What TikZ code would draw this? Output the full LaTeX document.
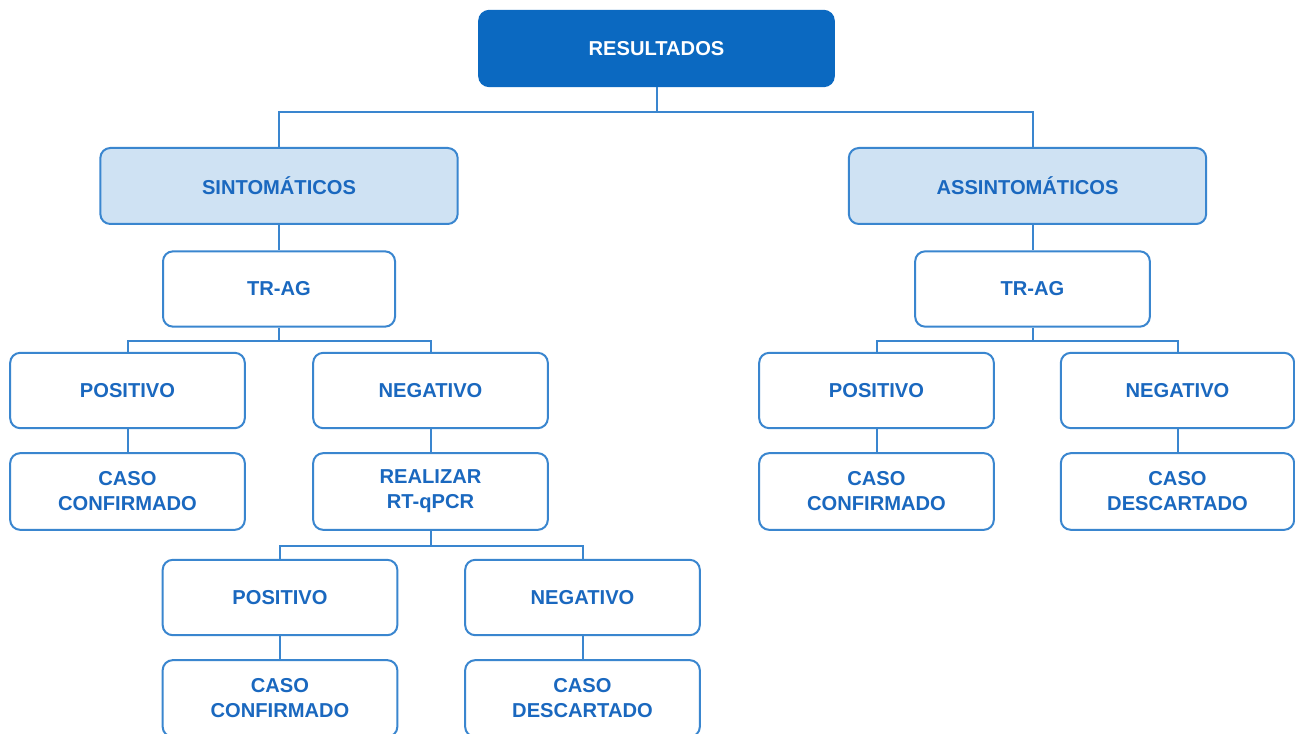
\documentclass[tikz,border=0pt]{standalone}
\usepackage{fontspec}
\setmainfont{Liberation Sans}
\definecolor{darkfill}{HTML}{0B69C1}
\definecolor{lightfill}{HTML}{CFE2F3}
\definecolor{edgeblue}{HTML}{3A86CF}
\definecolor{textblue}{HTML}{1A68BF}
\begin{document}
\begin{tikzpicture}[x=0.75pt,y=-0.75pt,
  base/.style={rounded corners=7.5pt, line width=1.5pt, draw=edgeblue, align=center,
    font=\fontsize{15.1}{18.8}\selectfont\bfseries, text=textblue, inner sep=0pt},
  boxw/.style={base, fill=white, minimum width=176pt, minimum height=56.5pt},
  boxl/.style={base, fill=lightfill, minimum width=268pt, minimum height=57pt},
  boxd/.style={base, fill=darkfill, draw=darkfill, text=white, minimum width=266pt, minimum height=56.5pt},
  conn/.style={draw=edgeblue, line width=1.5pt}
]
\useasboundingbox (0,0) rectangle (1295,734);
% nodes
\node[boxd] (res) at (656.5,48.5) {RESULTADOS};
\node[boxl] (sint) at (279,186) {SINTOMÁTICOS};
\node[boxl] (assint) at (1027.5,186) {ASSINTOMÁTICOS};
\node[boxw, minimum width=174pt] (trag1) at (279,289) {TR-AG};
\node[boxw] (trag2) at (1032.5,289) {TR-AG};
\node[boxw] (pos1) at (127.5,390.5) {POSITIVO};
\node[boxw] (neg1) at (430.5,390.5) {NEGATIVO};
\node[boxw, minimum height=57.5pt] (cc1) at (127.5,491.5) {CASO\\CONFIRMADO};
\node[boxw, minimum height=57.5pt] (rt) at (430.5,491.5) {REALIZAR\\RT-qPCR};
\node[boxw] (pos2) at (280,597.5) {POSITIVO};
\node[boxw] (neg2) at (582.5,597.5) {NEGATIVO};
\node[boxw, minimum height=57.5pt] (cc2) at (280,698.5) {CASO\\CONFIRMADO};
\node[boxw, minimum height=57.5pt] (cd2) at (582.5,698.5) {CASO\\DESCARTADO};
\node[boxw] (pos3) at (876.5,390.5) {POSITIVO};
\node[boxw, minimum width=175pt] (neg3) at (1177.5,390.5) {NEGATIVO};
\node[boxw, minimum height=57.5pt] (cc3) at (876.5,491.5) {CASO\\CONFIRMADO};
\node[boxw, minimum width=175pt, minimum height=57.5pt] (cd3) at (1177.5,491.5) {CASO\\DESCARTADO};
% bus coordinates
\coordinate (b0) at (656.5,112);
\coordinate (b1) at (279,341);
\coordinate (b2) at (1032.5,341);
\coordinate (b3) at (430.5,546);
% connectors
\draw[conn] (res.south) -- (b0);
\draw[conn] (sint.north) -- (sint.north |- b0) -- (trag2.north |- b0) -- (trag2.north |- assint.north);
\draw[conn] (sint.south) -- (trag1.north);
\draw[conn] (assint.south -| trag2.north) -- (trag2.north);
\draw[conn] (trag1.south) -- (b1);
\draw[conn] (pos1.north) -- (pos1.north |- b1) -- (neg1.north |- b1) -- (neg1.north);
\draw[conn] (pos1.south) -- (cc1.north);
\draw[conn] (neg1.south) -- (rt.north);
\draw[conn] (rt.south) -- (b3);
\draw[conn] (pos2.north) -- (pos2.north |- b3) -- (neg2.north |- b3) -- (neg2.north);
\draw[conn] (pos2.south) -- (cc2.north);
\draw[conn] (neg2.south) -- (cd2.north);
\draw[conn] (trag2.south) -- (b2);
\draw[conn] (pos3.north) -- (pos3.north |- b2) -- (neg3.north |- b2) -- (neg3.north);
\draw[conn] (pos3.south) -- (cc3.north);
\draw[conn] (neg3.south) -- (cd3.north);
\end{tikzpicture}
\end{document}
